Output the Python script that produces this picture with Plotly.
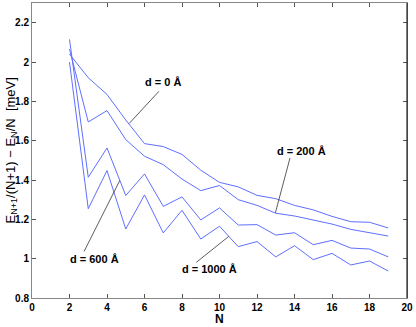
import plotly.graph_objects as go

# particle number
N = list(range(2, 20))

# energy differences for each separation d (meV)
d0 = [2.04, 1.92, 1.835, 1.705, 1.585, 1.57, 1.53, 1.45, 1.388, 1.365, 1.322, 1.305,
      1.271, 1.248, 1.215, 1.188, 1.185, 1.156]
d200 = [2.065, 1.695, 1.753, 1.605, 1.521, 1.478, 1.405, 1.346, 1.372, 1.300, 1.271, 1.231,
        1.217, 1.198, 1.176, 1.149, 1.131, 1.115]
d600 = [2.115, 1.414, 1.563, 1.321, 1.431, 1.266, 1.314, 1.197, 1.258, 1.171, 1.173, 1.120,
        1.132, 1.071, 1.093, 1.054, 1.049, 1.009]
d1000 = [2.0, 1.254, 1.448, 1.151, 1.324, 1.131, 1.246, 1.100, 1.165, 1.061, 1.087, 1.009,
         1.066, 0.995, 1.027, 0.968, 0.988, 0.937]

series = [("d = 0 Å", d0), ("d = 200 Å", d200), ("d = 600 Å", d600), ("d = 1000 Å", d1000)]

# label text position and leader line (from, to) in data units
labels = [
    ("d = 0 Å", 6.98, 1.897, 6.77, 1.851, 5.18, 1.687),
    ("d = 200 Å", 14.35, 1.546, 13.76, 1.512, 12.98, 1.233),
    ("d = 600 Å", 3.35, 0.998, 2.78, 1.037, 4.68, 1.397),
    ("d = 1000 Å", 9.47, 0.949, 8.76, 0.981, 10.49, 1.113),
]

xticks = list(range(0, 21, 2))
yticks = [0.8, 1.0, 1.2, 1.4, 1.6, 1.8, 2.0, 2.2]
yticklabels = ["0.8", "1", "1.2", "1.4", "1.6", "1.8", "2", "2.2"]

fig = go.Figure()
for name, vals in series:
    fig.add_trace(go.Scatter(x=N, y=vals, mode="lines", name=name,
                             line=dict(color="#5f6fff", width=1)))

for txt, tx, ty, x0, y0, x1, y1 in labels:
    fig.add_shape(type="line", x0=x0, y0=y0, x1=x1, y1=y1,
                  line=dict(color="#333333", width=0.8))
    fig.add_annotation(x=tx, y=ty, text=txt, showarrow=False,
                       font=dict(family="Liberation Sans", size=11, color="black", weight="bold"))

# right border is black in the original
fig.add_shape(type="line", xref="paper", yref="paper", x0=1, x1=1, y0=0, y1=1,
              line=dict(color="black", width=1))

# axis titles placed by hand
fig.add_annotation(xref="paper", yref="paper", x=0.5, y=0, yshift=-21, text="N",
                   showarrow=False, yanchor="middle",
                   font=dict(family="Liberation Sans", size=12, color="black", weight="bold"))
fig.add_annotation(xref="paper", yref="paper", x=0, xshift=-21, y=0.5,
                   text="E<sub>N+1</sub>/(N+1) − E<sub>N</sub>/N  [meV]", textangle=-90,
                   showarrow=False, xanchor="center",
                   font=dict(family="Liberation Sans", size=13, color="black"))

font_ticks = dict(family="Liberation Sans", size=10, color="black", weight="bold")
fig.update_xaxes(range=[0, 20], tickvals=xticks, ticks="inside", ticklen=4,
                 tickcolor="#555555", showline=True, linecolor="#888888", mirror="ticks",
                 showgrid=False, zeroline=False, tickfont=font_ticks, automargin=False)
fig.update_yaxes(range=[0.8, 2.3], tickvals=yticks, ticktext=yticklabels, ticks="inside",
                 ticklen=4, tickcolor="#555555", showline=True, linecolor="#888888",
                 mirror="ticks", showgrid=False, zeroline=False, tickfont=font_ticks,
                 automargin=False)

fig.update_layout(width=416, height=327, showlegend=False,
                  margin=dict(l=32, r=9, t=3, b=29),
                  plot_bgcolor="white", paper_bgcolor="white")

# drop the browser's default body margin so the figure sits at the page corner
fig.write_html("out.html", config={"displayModeBar": False},
               post_script="document.body.style.margin='0';")
